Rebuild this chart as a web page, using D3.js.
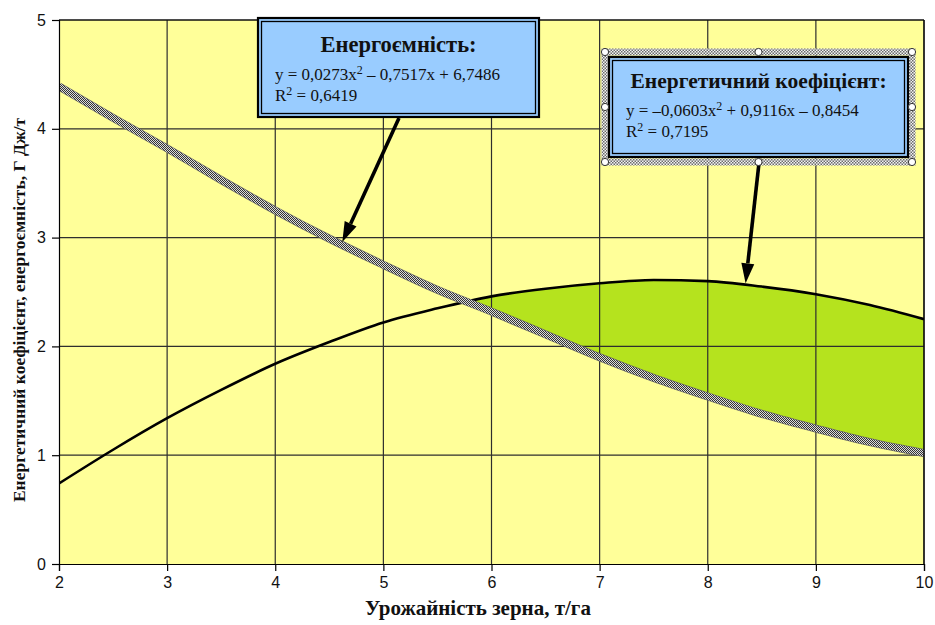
<!DOCTYPE html>
<html>
<head>
<meta charset="utf-8">
<script src="https://cdn.jsdelivr.net/npm/d3@7"></script>
<style>
  body { margin: 0; background: #fff; }
  svg { display: block; }
</style>
</head>
<body>
<svg id="chart" width="935" height="625"></svg>
<script>
// Grain yield, t/ha
const grainYield = [2, 2.5, 3, 3.5, 4, 4.5, 5, 5.5, 6, 6.5, 7, 7.5, 8, 8.5, 9, 9.5, 10];
// Energy coefficient (black line)
const energyCoefficient = [0.74, 1.05, 1.34, 1.60, 1.84, 2.04, 2.22, 2.35, 2.46, 2.53, 2.58, 2.61, 2.60, 2.55, 2.48, 2.38, 2.25];
// Energy intensity, GJ/t (hatched grey line)
const energyIntensity = [4.39, 4.10, 3.82, 3.53, 3.25, 2.99, 2.75, 2.52, 2.32, 2.11, 1.90, 1.71, 1.54, 1.38, 1.245, 1.12, 1.02];

const xTickValues = [2, 3, 4, 5, 6, 7, 8, 9, 10];
const yTickValues = [0, 1, 2, 3, 4, 5];

const xTitle = "Урожайність зерна, т/га";
const yTitle = "Енергетичний коефіцієнт, енергоємність, Г Дж/т";

const intensityLabel = { title: "Енергоємність:", eq: ["y = 0,0273x", "2", " – 0,7517x + 6,7486"], r2: "0,6419" };
const coefLabel = { title: "Енергетичний коефіцієнт:", eq: ["y = –0,0603x", "2", " + 0,9116x – 0,8454"], r2: "0,7195" };

const svg = d3.select("#chart");
const W = 935, H = 625;
const plot = { left: 59, right: 924, top: 20, bottom: 564 };

const x = d3.scaleLinear().domain([2, 10]).range([plot.left, plot.right]);
const y = d3.scaleLinear().domain([0, 5]).range([plot.bottom, plot.top]);

const rows = grainYield.map((g, i) => ({ g, c: energyCoefficient[i], e: energyIntensity[i] }));
const curve = d3.curveMonotoneX;

const defs = svg.append("defs");
// checkered fill for the thick grey line
const chk = defs.append("pattern").attr("id", "checker")
  .attr("patternUnits", "userSpaceOnUse").attr("width", 2).attr("height", 2);
chk.append("rect").attr("width", 2).attr("height", 2).attr("fill", "#dcdcdc");
chk.append("rect").attr("width", 1).attr("height", 1).attr("fill", "#333");
chk.append("rect").attr("x", 1).attr("y", 1).attr("width", 1).attr("height", 1).attr("fill", "#333");

const chk2 = defs.append("pattern").attr("id", "selFrame")
  .attr("patternUnits", "userSpaceOnUse").attr("width", 3).attr("height", 3);
chk2.append("rect").attr("width", 3).attr("height", 3).attr("fill", "#f4f4f4");
chk2.append("rect").attr("width", 1.5).attr("height", 1.5).attr("fill", "#6a6a6a");
chk2.append("rect").attr("x", 1.5).attr("y", 1.5).attr("width", 1.5).attr("height", 1.5).attr("fill", "#6a6a6a");

// region above the energy-intensity curve
defs.append("clipPath").attr("id", "aboveIntensity")
  .append("path")
  .attr("d", d3.area().curve(curve).x(d => x(d.g)).y0(plot.top).y1(d => y(d.e))(rows));

defs.append("clipPath").attr("id", "plotClip")
  .append("rect").attr("x", plot.left).attr("y", plot.top)
  .attr("width", plot.right - plot.left).attr("height", plot.bottom - plot.top);

svg.append("rect").attr("width", W).attr("height", H).attr("fill", "#fff");
svg.append("rect").attr("x", plot.left).attr("y", plot.top)
  .attr("width", plot.right - plot.left).attr("height", plot.bottom - plot.top)
  .attr("fill", "#ffff99");

// green zone where the energy coefficient exceeds energy intensity
svg.append("path")
  .attr("clip-path", "url(#aboveIntensity)")
  .attr("d", d3.area().curve(curve).x(d => x(d.g)).y0(plot.bottom).y1(d => y(d.c))(rows))
  .attr("fill", "#b5e31e");

// grid
const grid = svg.append("g").attr("stroke", "#2e2e2e").attr("stroke-width", 1.2);
grid.selectAll(".gx").data(xTickValues.slice(1)).join("line")
  .attr("x1", d => x(d)).attr("x2", d => x(d)).attr("y1", plot.top).attr("y2", plot.bottom);
grid.selectAll(".gy").data(yTickValues.slice(1)).join("line")
  .attr("y1", d => y(d)).attr("y2", d => y(d)).attr("x1", plot.left).attr("x2", plot.right);

const lines = svg.append("g").attr("clip-path", "url(#plotClip)");
lines.append("path")
  .attr("d", d3.line().curve(curve).x(d => x(d.g)).y(d => y(d.c))(rows))
  .attr("fill", "none").attr("stroke", "#000").attr("stroke-width", 2.6);
lines.append("path")
  .attr("d", d3.line().curve(curve).x(d => x(d.g)).y(d => y(d.e))(rows))
  .attr("fill", "none").attr("stroke", "#666").attr("stroke-width", 8);
lines.append("path")
  .attr("d", d3.line().curve(curve).x(d => x(d.g)).y(d => y(d.e))(rows))
  .attr("fill", "none").attr("stroke", "url(#checker)").attr("stroke-width", 6.5);

// axes
const xAxis = svg.append("g").attr("transform", `translate(0,${plot.bottom})`)
  .call(d3.axisBottom(x).tickValues(xTickValues).tickSize(7).tickPadding(6).tickFormat(d3.format("d")));
const yAxis = svg.append("g").attr("transform", `translate(${plot.left},0)`)
  .call(d3.axisLeft(y).tickValues(yTickValues).tickSize(7).tickPadding(6).tickFormat(d3.format("d")));
[xAxis, yAxis].forEach(a => {
  a.selectAll("path").attr("stroke", "#000").attr("stroke-width", 1.2);
  a.selectAll("line").attr("stroke", "#000").attr("stroke-width", 1.2);
  a.selectAll("text").attr("font-family", "Liberation Sans, Arial, sans-serif")
    .attr("font-size", 16).attr("fill", "#111");
});
svg.append("line").attr("x1", plot.right).attr("x2", plot.right)
  .attr("y1", plot.top).attr("y2", plot.bottom).attr("stroke", "#000").attr("stroke-width", 1.2);
svg.append("line").attr("x1", plot.left).attr("x2", plot.right)
  .attr("y1", plot.top).attr("y2", plot.top).attr("stroke", "#000").attr("stroke-width", 1.2);

// axis titles
svg.append("text").text(xTitle)
  .attr("x", 478).attr("y", 615).attr("text-anchor", "middle")
  .attr("font-family", "Liberation Serif, Times New Roman, serif")
  .attr("font-weight", "bold").attr("font-size", 21).attr("fill", "#111");
svg.append("text").text(yTitle)
  .attr("transform", "translate(25,310) rotate(-90)").attr("text-anchor", "middle")
  .attr("font-family", "Liberation Serif, Times New Roman, serif")
  .attr("font-weight", "bold").attr("font-size", 17.5).attr("fill", "#111");

// annotation boxes
function labelBox(g, bx, by, bw, bh, info, titleY, eqX, titleSize, eqSize) {
  g.append("rect").attr("x", bx).attr("y", by).attr("width", bw).attr("height", bh)
    .attr("fill", "#99ccff").attr("stroke", "#000").attr("stroke-width", 2.2);
  g.append("rect").attr("x", bx + 3.5).attr("y", by + 3.5).attr("width", bw - 7).attr("height", bh - 7)
    .attr("fill", "none").attr("stroke", "#000").attr("stroke-width", 1.3);
  g.append("text").text(info.title)
    .attr("x", bx + bw / 2).attr("y", by + titleY).attr("text-anchor", "middle")
    .attr("font-family", "Liberation Serif, Times New Roman, serif")
    .attr("font-weight", "bold").attr("font-size", titleSize).attr("fill", "#111");
  const eq = g.append("text").attr("x", eqX).attr("y", by + titleY + 28)
    .attr("font-family", "Liberation Serif, Times New Roman, serif")
    .attr("font-size", eqSize).attr("fill", "#111");
  eq.append("tspan").text(info.eq[0]);
  eq.append("tspan").text(info.eq[1]).attr("dy", -6).attr("font-size", 12);
  eq.append("tspan").text(info.eq[2]).attr("dy", 6);
  const r = g.append("text").attr("x", eqX).attr("y", by + titleY + 49)
    .attr("font-family", "Liberation Serif, Times New Roman, serif")
    .attr("font-size", eqSize).attr("fill", "#111");
  r.append("tspan").text("R");
  r.append("tspan").text("2").attr("dy", -6).attr("font-size", 12);
  r.append("tspan").text(" = " + info.r2).attr("dy", 6);
}

function arrow(g, x1, y1, x2, y2) {
  const ang = Math.atan2(y2 - y1, x2 - x1);
  const L = 20, Wd = 6.5;
  const bx = x2 - L * Math.cos(ang), by = y2 - L * Math.sin(ang);
  g.append("line").attr("x1", x1).attr("y1", y1).attr("x2", bx).attr("y2", by)
    .attr("stroke", "#000").attr("stroke-width", 3.6);
  const px = -Math.sin(ang) * Wd, py = Math.cos(ang) * Wd;
  g.append("path")
    .attr("d", `M${x2},${y2}L${bx + px},${by + py}L${bx - px},${by - py}Z`)
    .attr("fill", "#000");
}

const ann = svg.append("g");
// energy intensity callout
labelBox(ann, 258, 18, 281, 99, intensityLabel, 34, 275, 22.5, 17);
arrow(ann, 399, 118, x(4.62), y(2.96));

// energy coefficient callout with selection frame
ann.append("rect").attr("x", 605).attr("y", 52).attr("width", 307).attr("height", 110)
  .attr("fill", "none").attr("stroke", "url(#selFrame)").attr("stroke-width", 7);
labelBox(ann, 609, 57, 299, 100, coefLabel, 31, 626, 21.5, 17);
arrow(ann, 759, 163, x(8.35), y(2.58));
const handles = [[605, 52], [758.5, 52], [912, 52], [605, 107], [912, 107], [605, 162], [758.5, 162], [912, 162]];
ann.selectAll(".h").data(handles).join("circle")
  .attr("cx", d => d[0]).attr("cy", d => d[1]).attr("r", 3.6)
  .attr("fill", "#fff").attr("stroke", "#333").attr("stroke-width", 1);
</script>
</body>
</html>
